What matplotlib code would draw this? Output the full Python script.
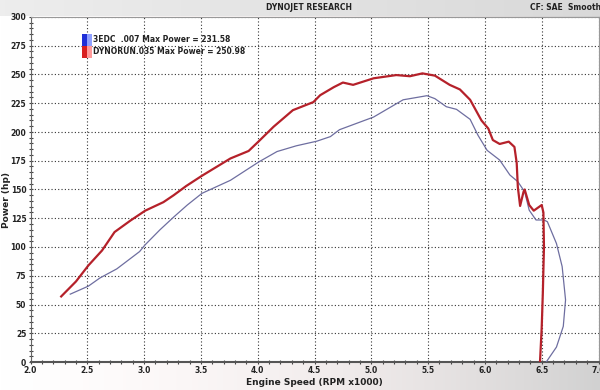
import numpy as np
import matplotlib
matplotlib.use("Agg")
import matplotlib.pyplot as plt
from matplotlib.ticker import MultipleLocator, FixedLocator
from matplotlib.patches import Rectangle

# ---- data ----
red_rpm = [2.27, 2.40, 2.51, 2.63, 2.74, 2.88, 3.01, 3.17, 3.26, 3.37, 3.51, 3.76, 3.92, 4.01,
           4.14, 4.31, 4.49, 4.55, 4.67, 4.75, 4.84, 5.02, 5.22, 5.34, 5.45, 5.56, 5.69, 5.78,
           5.87, 5.97, 6.03, 6.07, 6.13, 6.21, 6.26, 6.28, 6.29, 6.31, 6.34, 6.35, 6.39, 6.43,
           6.50, 6.515, 6.52, 6.51, 6.50, 6.485]
red_hp = [57, 70, 84, 97, 113, 123, 131.6, 139, 145, 153, 162, 177, 183.5, 192,
          204.6, 219, 226, 232, 239, 243, 241, 246.7, 249.5, 248.5, 250.98, 249, 241, 237,
          228, 210, 203, 193, 189.6, 191.6, 187, 173, 152, 135.7, 148, 150, 136.5, 131.6,
          136.5, 130, 100, 60, 30, 0]

blue_rpm = [2.35, 2.51, 2.61, 2.76, 2.96, 3.01, 3.14, 3.26, 3.38, 3.51, 3.76, 4.01, 4.17, 4.34,
            4.52, 4.64, 4.72, 5.02, 5.28, 5.49, 5.56, 5.66, 5.75, 5.87, 5.94, 6.02, 6.13, 6.22,
            6.29, 6.35, 6.39, 6.45, 6.52, 6.55, 6.63, 6.68, 6.71, 6.69, 6.63, 6.54]
blue_hp = [59, 66, 73, 81, 96, 102, 115, 126, 136.5, 146.7, 158, 174, 183, 188,
           192, 196, 202, 213, 228, 231.58, 229, 222, 219.7, 211, 197, 184, 175.6, 162.6,
           156.8, 148, 132, 123.5, 123.5, 122, 103, 83, 54, 31, 13, 0]

legend_labels = ["3EDC  .007 Max Power = 231.58", "DYNORUN.035 Max Power = 250.98"]
x_ticks = [2.0, 2.5, 3.0, 3.5, 4.0, 4.5, 5.0, 5.5, 6.0, 6.5, 7.0]
x_tick_labels = ["2.0", "2.5", "3.0", "3.5", "4.0", "4.5", "5.0", "5.5", "6.0", "6.5", "7.0"]
y_ticks = list(range(0, 301, 25))

# ---- figure ----
fig = plt.figure(figsize=(6.0, 3.9), dpi=100)

# background gradient
bg = fig.add_axes([0, 0, 1, 1], zorder=-10)
h, w = 390, 600
gx = np.linspace(0, 1, w)
img = np.ones((h, w, 3))
base = np.clip(1.0 - 0.18 * gx ** 2, 0, 1)
for c, tint in enumerate([0.0, 0.02, 0.02]):
    img[:, :, c] = base - tint * np.sin(np.pi * gx)
img[:16, :, :] = (0.93 - 0.08 * gx)[None, :, None]
bg.imshow(img, aspect="auto", extent=[0, 1, 0, 1])
bg.axis("off")

ax = fig.add_axes([30.5 / 600, 28 / 390, (598.5 - 30.5) / 600, (362 - 17) / 390])
ax.set_facecolor("white")

ax.plot(blue_rpm, blue_hp, color="#6e6ea0", lw=0.9, zorder=3)
ax.plot(red_rpm, red_hp, color="#b5212a", lw=1.6, zorder=4)

ax.set_xlim(2.0, 7.0)
ax.set_ylim(0, 300)
ax.xaxis.set_major_locator(FixedLocator(x_ticks))
ax.set_xticklabels(x_tick_labels)
ax.xaxis.set_minor_locator(MultipleLocator(0.1))
ax.yaxis.set_major_locator(FixedLocator(y_ticks))
ax.yaxis.set_minor_locator(MultipleLocator(5))

ax.grid(True, which="major", color="#333333", lw=0.8, linestyle=(0, (1, 2)))
ax.tick_params(axis="both", which="major", labelsize=5.5, length=3, width=0.8,
               color="#444444", pad=1.5, direction="inout")
ax.tick_params(axis="both", which="minor", length=2.5, width=0.8, color="#444444",
               direction="inout")
for lab in ax.get_xticklabels() + ax.get_yticklabels():
    lab.set_fontweight("bold")
    lab.set_color("#222222")

for s in ["top", "right"]:
    ax.spines[s].set_color("#999999")
    ax.spines[s].set_linewidth(0.8)
ax.spines["left"].set_color("#666666")
ax.spines["bottom"].set_color("#555555")
ax.spines["bottom"].set_linewidth(1.5)

ax.set_xlabel("Engine Speed (RPM x1000)", fontsize=6.5, fontweight="bold", labelpad=2, color="#222222")
fig.text(7 / 600, 1 - 200 / 390, "Power (hp)", fontsize=6.5, fontweight="bold",
         rotation=90, ha="center", va="center", color="#222222")

# legend
colors = [("#1f2fd8", "#8fa0ff"), ("#d81f1f", "#ff9a9a")]
ys = [275, 264.5]
for (c1, c2), y0, lab in zip(colors, ys, legend_labels):
    ax.add_patch(Rectangle((2.457, y0), 0.04, 10.5, facecolor=c1, edgecolor="none", zorder=5))
    ax.add_patch(Rectangle((2.497, y0), 0.04, 10.5, facecolor=c2, edgecolor="none", zorder=5))
    ax.text(2.55, y0 + 5.2, lab, fontsize=5.5, fontweight="bold", va="center", ha="left",
            color="#222222", zorder=6)

fig.text(309 / 600, 1 - 8 / 390, "DYNOJET RESEARCH", fontsize=5.5, fontweight="bold",
         ha="center", va="center", color="#222222")
fig.text(530 / 600, 1 - 8 / 390, "CF: SAE  Smoothing", fontsize=5.5, fontweight="bold",
         ha="left", va="center", color="#222222")

fig.savefig("out.png", dpi=100)
